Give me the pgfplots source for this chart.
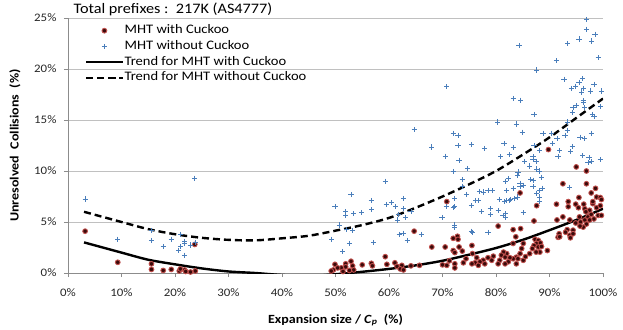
\documentclass[border=0pt]{standalone}
\usepackage{fontspec}
\setmainfont{Carlito}[FakeStretch=1.12]
\usepackage{pgfplots}
\pgfplotsset{compat=1.18}
\definecolor{redE}{HTML}{C0504D}
\definecolor{redF}{HTML}{3A0A0A}
\definecolor{blueP}{HTML}{4A7EBB}
\definecolor{gridc}{HTML}{C0C0C0}
\definecolor{axc}{HTML}{8C8C8C}
\begin{document}
\begin{tikzpicture}
\begin{axis}[
  name=ax,
  scale only axis, width=535pt, height=255pt,
  xmin=0, xmax=100, ymin=0, ymax=25,
  axis x line*=bottom, axis y line*=left,
  axis line style={axc, line width=0.8pt},
  xtick={0,10,...,100}, ytick={0,5,...,25},
  ymajorgrids, grid style={gridc, line width=0.9pt},
  tick align=outside, major tick length=4pt,
  tick style={axc, line width=0.8pt},
  /pgf/number format/assume math mode=true,
  xticklabel={\pgfmathprintnumber{\tick}\%},
  yticklabel={\pgfmathprintnumber{\tick}\%},
  ticklabel style={font=\fontsize{11.5}{13}\selectfont, text=black!85},
  yticklabel style={xshift=-4pt},
  xticklabel style={yshift=-8pt},
  xlabel={Expansion size / \textit{C}\textsubscript{\textit{p}}~~(\%)},
  ylabel={Unresolved~~Collisions~~(\%)},
  label style={font=\fontsize{12.5}{14}\selectfont\bfseries},
  x label style={at={(axis description cs:0.5,0)}, anchor=center, yshift=-47pt},
  y label style={at={([xshift=-53pt]axis description cs:0,0.5)}, anchor=center},
  legend style={at={(rel axis cs:0,1)}, anchor=north west, xshift=17pt, yshift=-6.5pt,
    draw=none, fill=none, inner sep=0pt, font=\fontsize{13}{15}\selectfont,
    row sep=3.7pt, nodes={inner xsep=1pt, inner ysep=0pt, text height=9pt, text depth=3pt}},
  legend cell align=left,
  legend image code/.code={\draw[mark repeat=2,mark phase=2,#1] plot coordinates {(0pt,0pt) (18pt,0pt) (36pt,0pt)};},
]
\addplot[only marks, mark=*, mark size=2.4pt, mark options={draw=redE, fill=redF, line width=0.9pt}] table {
3.2 4.1
9.3 1.05
15.6 0.9
15.6 0.35
17.8 0.25
19.3 0.35
20.8 0.2
21.0 0.4
21.8 0.3
22.0 0.15
22.9 0.1
23.8 0.2
23.7 2.8
64.7 4.1
70.8 7.0
59.3 1.6
56.7 0.95
56.9 0.7
55.0 0.8
52.9 1.15
51.9 0.9
51.9 0.6
51.1 0.5
51.4 0.15
49.9 0.85
49.6 0.3
49.2 0.2
50.4 0.5
53.2 0.7
53.4 0.3
52.6 0.25
59.6 0.85
61.1 1.0
61.5 0.65
62.4 0.75
62.1 0.4
62.7 0.3
64.1 0.7
65.7 0.75
68.0 2.55
70.5 2.55
72.0 3.4
72.8 3.6
72.9 3.3
72.0 2.2
72.3 2.0
73.1 2.55
73.7 2.15
71.3 1.2
72.3 0.9
70.0 0.8
70.8 0.75
72.3 0.5
74.4 1.4
73.9 1.0
87.6 6.6
91.3 6.75
93.5 7.0
93.5 6.5
94.9 6.75
95.4 6.4
96.4 6.75
96.6 6.3
98.1 6.8
97.5 6.15
98.8 6.4
99.5 6.6
87.1 5.1
91.4 5.2
92.5 5.5
93.8 5.2
94.9 4.9
95.8 5.0
96.6 5.2
97.2 5.5
97.8 5.75
96.9 4.8
96.3 4.5
98.3 5.3
99.1 5.65
95.7 4.6
93.3 4.25
93.0 4.0
93.8 3.7
93.9 3.45
91.8 3.85
94.4 4.2
91.6 3.5
91.9 3.55
94.4 3.85
95.6 5.5
96.8 6.0
97.5 5.2
80.4 4.6
83.2 4.25
84.6 4.35
83.7 3.55
83.2 2.9
87.3 3.3
87.9 3.2
87.6 2.9
88.3 2.95
87.1 2.7
87.9 2.55
88.5 2.6
88.2 2.05
87.5 2.05
86.8 2.4
86.3 1.9
89.6 2.2
85.1 2.9
84.8 2.4
84.5 1.9
83.8 1.55
83.2 1.4
84.1 1.4
82.6 1.5
85.1 1.25
82.0 1.9
81.4 2.05
81.0 1.75
81.7 1.55
82.3 1.1
80.7 1.25
80.4 0.9
81.7 0.9
83.8 0.9
85.5 1.6
79.5 1.65
79.2 1.25
78.5 1.5
77.6 1.25
77.0 1.1
76.4 1.5
76.1 1.0
75.5 0.9
77.9 0.9
76.7 0.75
75.5 2.7
75.6 1.9
89.8 12.1
95.0 10.4
96.9 10.0
92.5 8.75
96.9 8.75
98.6 8.3
97.8 7.85
95.5 7.4
98.8 7.45
99.5 7.4
99.7 7.2
98.1 7.0
84.5 7.85
99.7 5.65
};
\addlegendentry{MHT with Cuckoo}
\addplot[only marks, mark=+, mark size=2.6pt, mark options={draw=blueP, line width=0.8pt}] table {
3.2 7.25
9.3 3.3
23.7 9.3
15.6 4.15
15.6 3.2
17.8 2.6
19.3 3.3
21.0 3.8
21.0 2.6
20.7 2.2
21.8 3.1
21.8 2.95
21.8 1.75
22.9 2.75
23.8 3.0
59.3 9.0
73.7 8.5
52.9 7.7
49.9 6.5
56.7 7.1
56.8 6.2
51.9 6.0
51.9 5.6
53.4 5.8
54.9 5.9
60.4 6.9
59.5 6.7
61.2 6.5
62.7 7.3
62.7 6.3
64.1 6.0
61.8 5.7
63.1 5.45
61.6 5.2
74.5 7.7
72.3 7.3
72.3 6.5
70.7 6.5
72.0 6.4
69.9 5.45
50.7 4.7
53.2 4.2
52.1 4.3
49.3 3.3
51.3 2.1
52.6 2.9
57.1 3.0
62.6 3.9
61.9 3.8
66.0 3.8
63.4 3.2
72.3 4.7
72.3 4.5
64.7 14.05
72.0 13.7
72.9 13.5
72.9 12.5
68.0 12.35
70.5 11.45
73.1 11.05
74.7 10.25
72.0 9.95
73.7 9.15
70.8 18.25
75.4 6.6
77.3 6.0
79.0 5.7
80.4 6.1
81.3 5.65
81.8 5.8
85.1 5.9
81.6 7.0
82.5 7.1
75.6 4.0
78.5 4.0
75.4 4.1
78.9 6.3
81.7 5.5
80.3 14.8
83.8 14.6
84.9 13.8
88.8 13.7
90.4 13.7
91.4 13.2
92.9 13.5
93.3 14.0
95.7 13.3
96.6 13.2
97.8 13.7
75.4 12.6
77.9 12.2
81.5 12.7
83.2 12.3
82.5 11.6
80.9 11.4
87.1 12.5
88.2 12.0
90.6 12.7
91.6 11.4
91.9 12.0
94.3 12.4
93.9 11.9
96.2 11.5
97.4 11.3
97.2 10.8
97.8 10.9
99.5 11.1
85.4 10.9
86.9 11.4
86.9 11.1
87.6 10.9
86.3 10.5
87.6 10.2
88.2 10.0
88.5 9.4
86.9 9.1
84.1 9.9
84.0 9.6
82.3 9.25
81.8 9.0
84.5 8.8
85.1 8.6
86.5 9.15
83.2 8.3
84.5 8.45
82.0 8.1
76.9 8.0
77.7 7.95
78.5 8.1
79.3 8.05
76.2 7.1
76.7 7.1
80.6 7.2
82.0 7.1
82.7 7.2
83.4 7.3
84.0 7.45
87.6 7.8
88.2 7.0
88.2 7.45
88.1 8.1
86.9 8.45
88.7 8.3
93.8 8.4
96.9 24.85
96.9 23.9
98.5 23.4
95.5 22.95
97.9 22.75
93.4 22.5
84.3 22.3
99.1 21.1
91.3 20.8
87.6 19.9
92.7 19.0
96.2 19.05
95.5 18.7
94.1 18.1
94.9 18.3
96.4 18.1
98.3 18.5
96.0 17.75
97.6 17.85
99.7 17.85
83.2 17.1
84.6 16.95
96.3 16.9
96.4 16.7
95.1 16.4
94.4 16.2
96.6 16.2
99.6 16.3
94.3 15.7
98.0 15.55
98.3 15.35
87.1 15.55
93.4 14.8
};
\addlegendentry{MHT without Cuckoo}
\addplot[black, line width=2.4pt, smooth] coordinates {
(3,3.0) (10,2.0) (15,1.3) (20,0.85) (25,0.45) (30,0.15) (35,0.0) (40,-0.2) (45,-0.3) (50,-0.12) (55,0.12) (60,0.4) (65,0.75) (70,1.2) (75,1.8) (80,2.45) (85,3.25) (90,4.2) (95,5.2) (100,6.3)
};
\addlegendentry{Trend for MHT with Cuckoo}
\addplot[black, line width=2.4pt, smooth, dash pattern=on 7pt off 4pt] coordinates {
(3,6.0) (10,5.0) (15,4.3) (20,3.8) (25,3.45) (30,3.25) (35,3.2) (40,3.4) (45,3.65) (50,4.15) (55,4.7) (60,5.4) (65,6.4) (70,7.5) (75,8.7) (80,10.0) (85,11.6) (90,13.3) (95,15.2) (100,17.1)
};
\addlegendentry{Trend for MHT without Cuckoo}
\end{axis}
\node[anchor=west, font=\fontsize{14.5}{16}\selectfont, xshift=2pt, yshift=8.5pt] at (ax.north west) {Total prefixes :~~217K (AS4777)};
\pgfresetboundingbox
\path[use as bounding box] ([xshift=-68pt,yshift=-56pt]ax.south west) rectangle ([xshift=20pt,yshift=18pt]ax.north east);
\end{tikzpicture}
\end{document}
